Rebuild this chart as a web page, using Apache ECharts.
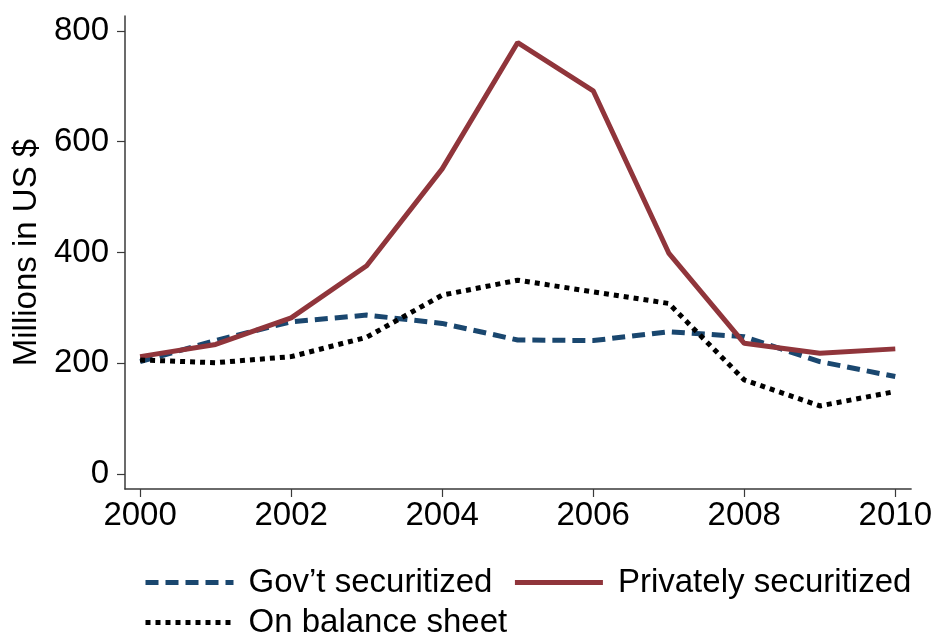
<!DOCTYPE html>
<html>
<head>
<meta charset="utf-8">
<script src="https://cdn.jsdelivr.net/npm/echarts@6/dist/echarts.min.js"></script>
<style>
  html, body { margin: 0; padding: 0; background: #fff; }
  #chart { width: 935px; height: 635px; }
</style>
</head>
<body>
<div id="chart"></div>
<script>
// Mortgage origination volumes by funding channel, 2000–2010 (millions of US $)
const years = [2000, 2001, 2002, 2003, 2004, 2005, 2006, 2007, 2008, 2009, 2010];
const govSecuritized     = [203, 241, 275, 287, 272, 242, 241, 257, 248, 203, 176];
const privateSecuritized = [212, 234, 282, 376, 551, 779, 692, 399, 236, 218, 226];
const onBalanceSheet     = [206, 201, 212, 247, 323, 350, 329, 308, 170, 123, 149];

const xTicks = [2000, 2002, 2004, 2006, 2008, 2010];
const yTicks = [0, 200, 400, 600, 800];

const seriesNames = ['Gov\u2019t securitized', 'Privately securitized', 'On balance sheet'];

const FONT = 'Liberation Sans, Arial, Helvetica, sans-serif';
const FONT_SIZE = 33;
const AXIS_COLOR = '#3a3a3a';
const LINE_W = 5;

function pairs(values) {
  return years.map((y, i) => [y, values[i]]);
}

// shared legend look: long line keys, no symbol marker
function legendBlock(names, top) {
  return {
    left: 143,
    top: top,
    padding: 0,
    itemGap: 20,
    itemWidth: 88,
    itemHeight: 14,
    orient: 'horizontal',
    data: names,
    itemStyle: { opacity: 0 },
    lineStyle: { width: LINE_W },
    textStyle: {
      fontSize: FONT_SIZE,
      lineHeight: 20,
      color: '#000',
      fontFamily: FONT,
      padding: [0, 0, 0, 10]
    }
  };
}

const chart = echarts.init(document.getElementById('chart'), null, { renderer: 'canvas' });

chart.setOption({
  animation: false,
  backgroundColor: '#ffffff',
  textStyle: { fontFamily: FONT },
  grid: { left: 125, right: 23, top: 16, bottom: 146, containLabel: false },
  xAxis: {
    type: 'value',
    min: 1999.8,
    max: 2010.21,
    splitLine: { show: false },
    axisLine: { show: true, onZero: false, lineStyle: { color: AXIS_COLOR, width: 1.5 } },
    axisTick: { show: true, length: 8, customValues: xTicks, lineStyle: { color: AXIS_COLOR, width: 1.2 } },
    axisLabel: {
      customValues: xTicks,
      margin: 10,
      fontSize: FONT_SIZE,
      color: '#000',
      fontFamily: FONT,
      formatter: v => String(Math.round(v))
    }
  },
  yAxis: {
    type: 'value',
    min: -27,
    max: 827,
    name: 'Millions in US $',
    nameLocation: 'middle',
    nameRotate: 90,
    nameGap: 82,
    nameTextStyle: { fontSize: FONT_SIZE, color: '#000', fontFamily: FONT },
    splitLine: { show: false },
    axisLine: { show: true, onZero: false, lineStyle: { color: AXIS_COLOR, width: 1.5 } },
    axisTick: { show: true, length: 8, customValues: yTicks, lineStyle: { color: AXIS_COLOR, width: 1.2 } },
    axisLabel: {
      customValues: yTicks,
      margin: 16,
      fontSize: FONT_SIZE,
      color: '#000',
      fontFamily: FONT
    }
  },
  legend: [
    legendBlock([seriesNames[0], seriesNames[1]], 566),
    legendBlock([seriesNames[2]], 606)
  ],
  series: [
    {
      name: seriesNames[0],
      type: 'line',
      data: pairs(govSecuritized),
      symbol: 'none',
      lineStyle: { color: '#1a476f', width: LINE_W, type: [13, 7], cap: 'butt' },
      itemStyle: { color: '#1a476f' },
      z: 2
    },
    {
      name: seriesNames[1],
      type: 'line',
      data: pairs(privateSecuritized),
      symbol: 'none',
      lineStyle: { color: '#90353b', width: LINE_W, type: 'solid' },
      itemStyle: { color: '#90353b' },
      z: 3
    },
    {
      name: seriesNames[2],
      type: 'line',
      data: pairs(onBalanceSheet),
      symbol: 'none',
      lineStyle: { color: '#000000', width: LINE_W, type: [5, 5], cap: 'butt' },
      itemStyle: { color: '#000000' },
      z: 4
    }
  ]
});
</script>
</body>
</html>
